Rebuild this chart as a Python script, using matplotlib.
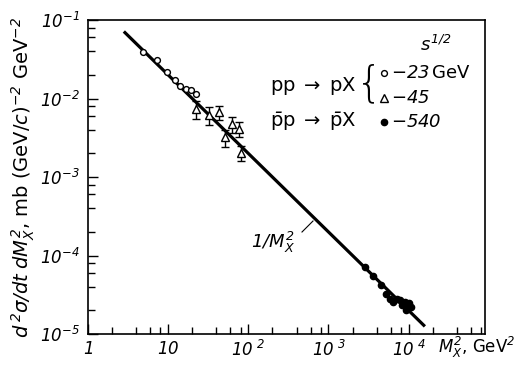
import matplotlib
matplotlib.use("Agg")
import matplotlib.pyplot as plt
from matplotlib.lines import Line2D
from matplotlib.ticker import LogLocator, FixedLocator, NullFormatter

plt.rcParams["font.family"] = "DejaVu Sans"
# italic digits and letters in math, upright via \mathsf
plt.rcParams["mathtext.fontset"] = "custom"
plt.rcParams["mathtext.rm"] = "DejaVu Sans:italic"
plt.rcParams["mathtext.it"] = "DejaVu Sans:italic"
plt.rcParams["mathtext.sf"] = "DejaVu Sans"
plt.rcParams["mathtext.default"] = "it"

# sqrt(s) = 23 GeV, pp -> pX (open circles)
M2_23 = [4.8, 7.2, 9.6, 12.2, 14.1, 16.8, 19.4, 22.4]
SIG_23 = [0.0393, 0.0313, 0.0217, 0.0174, 0.0143, 0.0133, 0.0127, 0.0115]

# sqrt(s) = 45 GeV, pp -> pX (triangles, with error bars)
M2_45 = [22.4, 31.9, 43.4, 62.5, 75.7, 51.6, 81.0]
SIG_45 = [7.4e-3, 6.2e-3, 6.7e-3, 4.7e-3, 4.1e-3, 3.2e-3, 2.05e-3]
ERR_45 = [1.9e-3, 1.6e-3, 1.4e-3, 1.1e-3, 0.9e-3, 0.8e-3, 0.45e-3]

# sqrt(s) = 540 GeV, pbar p -> pbar X (filled dots)
M2_540 = [2900, 3650, 4470, 5160, 5790, 6490, 7080, 7720, 8180, 8910,
          9440, 10000, 10600, 9170]
SIG_540 = [7.2e-5, 5.5e-5, 4.25e-5, 3.26e-5, 2.81e-5, 2.57e-5, 2.81e-5,
           2.73e-5, 2.35e-5, 2.57e-5, 2.28e-5, 2.5e-5, 2.22e-5, 2.03e-5]

# 1/M_X^2 line end points
LINE_M2 = [2.8, 1.6e4]
LINE_SIG = [0.0714, 1.25e-5]

X_TICKS = [1, 10, 100, 1000, 1e4]
X_LABELS = ["$1$", "$10$", "$10^{\\ 2}$", "$10^{\\ 3}$", "$10^{\\ 4}$"]
Y_TICKS = [1e-5, 1e-4, 1e-3, 1e-2, 1e-1]
Y_LABELS = ["$10^{-5}$", "$10^{-4}$", "$10^{-3}$", "$10^{-2}$", "$10^{-1}$"]

W, H = 520, 370
fig = plt.figure(figsize=(W / 100, H / 100), dpi=100)
ax = fig.add_axes([88 / W, 1 - 334 / H, (485 - 88) / W, (334 - 20) / H])


def fx(px):
    return px / W


def fy(py):
    return 1 - py / H


ax.plot(LINE_M2, LINE_SIG, color="black", lw=2.3, solid_capstyle="butt",
        zorder=2)
ax.plot(M2_23, SIG_23, "o", ms=4.2, mfc="white", mec="black", mew=1.0,
        zorder=4)
ax.errorbar(M2_45, SIG_45, yerr=ERR_45, fmt="^", ms=6, mfc="white",
            mec="black", mew=1.0, ecolor="black", elinewidth=1.0,
            capsize=3, capthick=1.0, zorder=4)
ax.plot(M2_540, SIG_540, "o", ms=4.5, color="black", zorder=4)

ax.set_xscale("log")
ax.set_yscale("log")
ax.set_xlim(1, 9e4)
ax.set_ylim(1e-5, 1e-1)

ax.xaxis.set_major_locator(FixedLocator(X_TICKS))
ax.xaxis.set_minor_locator(LogLocator(base=10, subs=(2, 4, 6, 8)))
ax.yaxis.set_major_locator(FixedLocator(Y_TICKS))
ax.yaxis.set_minor_locator(LogLocator(base=10, subs=(2, 4, 6, 8)))
ax.xaxis.set_minor_formatter(NullFormatter())
ax.yaxis.set_minor_formatter(NullFormatter())
ax.set_xticklabels(X_LABELS)
ax.set_yticklabels(Y_LABELS)
ax.tick_params(which="both", direction="in", top=False, right=False,
               labelsize=12, width=1.0)
ax.tick_params(axis="x", which="major", length=7, pad=4)
ax.tick_params(axis="y", which="major", length=7, pad=6)
ax.tick_params(which="minor", length=5)
for s in ax.spines.values():
    s.set_linewidth(1.2)

ax.set_ylabel(r"$d^{\,2}\sigma/dt\;dM_X^2$, mb (GeV/$c$)$^{-2}$ GeV$^{-2}$",
              fontsize=14, labelpad=2)
fig.text(fx(438), fy(347), r"$M_X^2$, GeV$^2$", fontsize=12,
         ha="left", va="center")

# 1/M_X^2 label with leader line
fig.text(fx(251), fy(242), r"$1/M_X^2$", fontsize=13, ha="left",
         va="center")
fig.add_artist(Line2D([fx(302), fx(313)], [fy(232), fy(221)],
                      color="black", lw=0.8))

# legend block
fig.text(fx(436), fy(45), r"$s^{1/2}$", fontsize=13, ha="center",
         va="center")
fig.text(fx(270), fy(86),
         r"$\mathsf{pp}\;\rightarrow\;\mathsf{pX}$",
         fontsize=14, ha="left", va="center")
fig.text(fx(270), fy(122),
         r"$\bar{\mathsf{p}}\mathsf{p}\;\rightarrow\;\bar{\mathsf{p}}\mathsf{X}$",
         fontsize=14, ha="left", va="center")
fig.text(fx(369), fy(84), "{", fontsize=30, ha="center", va="center",
         fontweight="light")
fig.add_artist(Line2D([fx(384)], [fy(73)], marker="o", ms=4.2, mfc="white",
                      mec="black", mew=1.0, ls="none"))
fig.add_artist(Line2D([fx(384)], [fy(98)], marker="^", ms=5.5, mfc="white",
                      mec="black", mew=1.0, ls="none"))
fig.add_artist(Line2D([fx(384)], [fy(122)], marker="o", ms=4.5,
                      color="black", ls="none"))
fig.text(fx(391), fy(73), r"$-23\,\mathsf{GeV}$", fontsize=13, ha="left",
         va="center")
fig.text(fx(391), fy(98), r"$-45$", fontsize=13, ha="left", va="center")
fig.text(fx(391), fy(122), r"$-540$", fontsize=13, ha="left", va="center")

fig.savefig("out.png", dpi=100)
